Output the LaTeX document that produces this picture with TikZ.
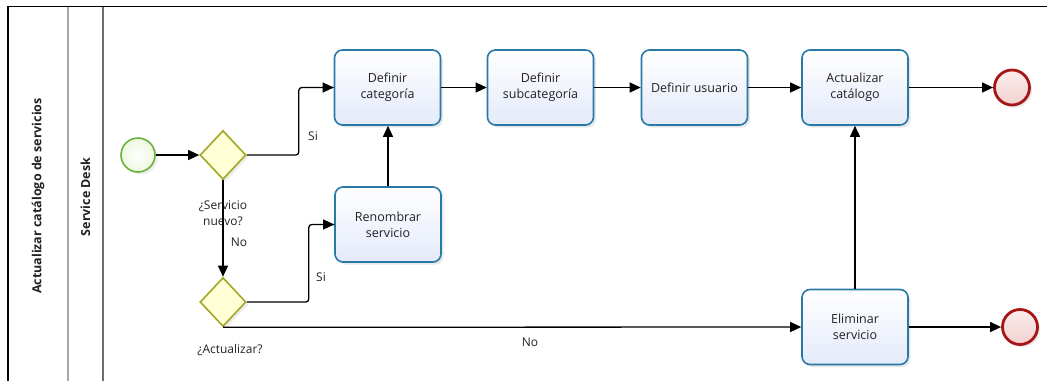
\documentclass[tikz,border=0pt]{standalone}
\usepackage{fontspec}
\setmainfont{Open Sans}
\usetikzlibrary{shapes.geometric,arrows.meta,shadows}
\definecolor{taskborder}{RGB}{40,120,168}
\definecolor{taskfill}{RGB}{228,234,250}
\definecolor{gwborder}{RGB}{165,165,40}
\definecolor{gwfill}{RGB}{255,255,214}
\definecolor{startborder}{RGB}{108,178,60}
\definecolor{startfill}{RGB}{236,248,222}
\definecolor{endborder}{RGB}{165,22,22}
\definecolor{endfill}{RGB}{244,208,208}
\definecolor{txt}{RGB}{34,34,34}
\tikzset{
  lbl/.style={font=\fontsize{12}{15.5}\selectfont, text=txt, align=center, inner sep=0pt},
  task/.style={rectangle, rounded corners=8pt, draw=taskborder, line width=1.6pt,
    top color=white, bottom color=taskfill, minimum width=106pt, minimum height=75pt,
    align=center, inner sep=2pt, font=\fontsize{12.5}{16}\selectfont, text=txt,
    drop shadow={opacity=0.18, shadow xshift=2.5pt, shadow yshift=-2.5pt}},
  gateway/.style={diamond, draw=gwborder, line width=1.6pt, fill=gwfill,
    minimum width=46pt, minimum height=49pt, inner sep=0pt,
    drop shadow={opacity=0.15, shadow xshift=2.5pt, shadow yshift=-2.5pt}},
  startev/.style={circle, draw=startborder, line width=1.6pt, inner color=white, outer color=startfill,
    minimum size=34pt, inner sep=0pt,
    drop shadow={opacity=0.15, shadow xshift=2.5pt, shadow yshift=-2.5pt}},
  endev/.style={circle, draw=endborder, line width=2.8pt, top color=endfill!40, bottom color=endfill,
    minimum size=35pt, inner sep=0pt,
    drop shadow={opacity=0.18, shadow xshift=2.5pt, shadow yshift=-2.5pt}},
  flowline/.style={draw=black, line width=1.3pt},
  flow/.style={flowline, -{Triangle[length=11pt,width=10pt,fill=black]}},
  poolline/.style={line width=1.4pt},
  title/.style={font=\fontsize{12.5}{14}\selectfont\bfseries, text=txt, rotate=90, inner sep=0pt}
}
\begin{document}
\begin{tikzpicture}[x=1pt,y=-1pt]
\useasboundingbox (0,0) rectangle (1047,381);
% pool
\draw[poolline, black] (8,381) -- (8,6.5) -- (1047,6.5);
\draw[poolline, gray!70] (68,7) -- (68,381);
\draw[poolline, gray!85!black] (103,7) -- (103,381);
\node[title] (pooltitle) at (38,196) {Actualizar catálogo de servicios};
\node[title] (lanetitle) at (85.5,197) {Service Desk};

% nodes
\node[startev] (start) at (138,155) {};
\node[gateway] (g1) at (223,155) {};
\node[gateway] (g2) at (223,302) {};
\node[task] (cat) at (387.5,87.5) {Definir\\categoría};
\node[task] (sub) at (540.5,87.5) {Definir\\subcategoría};
\node[task] (usr) at (694.5,87.5) {Definir usuario};
\node[task] (act) at (855,87.5) {Actualizar\\catálogo};
\node[task] (ren) at (388,224.5) {Renombrar\\servicio};
\node[task] (elim) at (855,327) {Eliminar\\servicio};
\node[endev] (end1) at (1012,87.5) {};
\node[endev] (end2) at (1020,327) {};

% labels
\node[lbl] (l1) at (223,213) {¿Servicio\\nuevo?};
\node[lbl] (l2) at (230,350) {¿Actualizar?};
\node[lbl] (lsi1) at (313,136) {Si};
\node[lbl] (lsi2) at (321,277) {Si};
\node[lbl] (lno1) at (239,242) {No};
\node[lbl] (lno2) at (530,342) {No};

% flows
\draw[flow] (start) -- (g1);
\draw[flowline, rounded corners=3pt] (g1.east) -- ++(52,0) |- (cat.west);
\draw[flow] ([xshift=-14pt]cat.west) -- (cat.west);
\draw[flow] (g1.south) -- (g2.north);
\draw[flowline, rounded corners=3pt] (g2.east) -- ++(62,0) |- (ren.west);
\draw[flow] ([xshift=-14pt]ren.west) -- (ren.west);
\draw[flow] (g2.south) -- (elim.west);
\draw[flow] (ren.north) -- (ren.north |- cat.south);
\draw[flow] (cat) -- (sub);
\draw[flow] (sub) -- (usr);
\draw[flow] (usr) -- (act);
\draw[flow] (act) -- (end1);
\draw[flow] (elim) -- (act);
\draw[flow] (elim) -- (end2);
\end{tikzpicture}
\end{document}
